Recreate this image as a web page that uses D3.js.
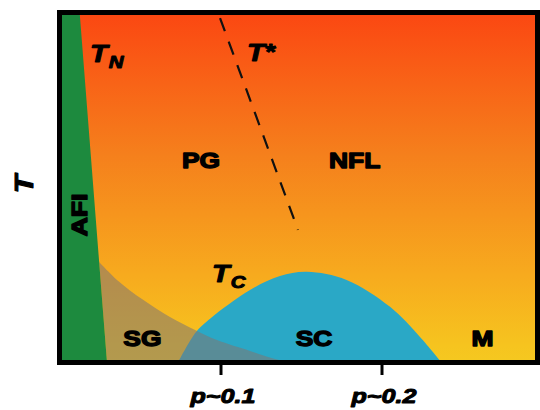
<!DOCTYPE html>
<html>
<head>
<meta charset="utf-8">
<script src="https://cdn.jsdelivr.net/npm/d3@7"></script>
<style>
  html, body { margin: 0; padding: 0; background: #fff; }
  svg { display: block; }
  text { font-family: "Liberation Sans", Arial, sans-serif; font-weight: bold; fill: #000; stroke-linejoin: round; }
</style>
</head>
<body>
<svg id="chart" width="540" height="410"></svg>
<script>
// Doping axis ticks
const pTicks = [0.1, 0.2];
const pTickLabels = ["p~0.1", "p~0.2"];

// Néel boundary of the antiferromagnetic insulator (p, T)
const afiBoundary = [[0.0122, 1.0], [0.0292, 0.0]];

// Spin-glass upper boundary (p, T)
const sgBoundary = [
  [0.0248, 0.287], [0.0354, 0.236], [0.0516, 0.179], [0.0683, 0.130],
  [0.0839, 0.093], [0.0975, 0.064], [0.118, 0.033], [0.132, 0.012], [0.143, 0.0]
];

// Superconducting dome Tc(p)
const scDome = [
  [0.0733, 0.0], [0.0845, 0.087], [0.0932, 0.125], [0.118, 0.207],
  [0.1366, 0.247], [0.1534, 0.259], [0.178, 0.236], [0.205, 0.159],
  [0.2236, 0.073], [0.237, 0.0]
];

// Pseudogap crossover T*(p)
const tStarLine = [[0.0994, 0.984], [0.1478, 0.379]];

// Phase labels: text and anchor (p, T)
const phaseNames = ["PG", "NFL", "SG", "SC", "M"];
const phaseAnchors = [[0.0876, 0.556], [0.183, 0.556], [0.0512, 0.047], [0.1578, 0.047], [0.2624, 0.047]];

const svg = d3.select("#chart");

const frame = { left: 59.5, top: 12.5, width: 478, height: 350 };
const x = d3.scaleLinear().domain([0, 0.3]).range([60, 543]);
const y = d3.scaleLinear().domain([0, 1]).range([frame.top + frame.height, frame.top]);

const defs = svg.append("defs");
const grad = defs.append("linearGradient")
  .attr("id", "bg").attr("gradientUnits", "userSpaceOnUse")
  .attr("x1", 0).attr("x2", 0).attr("y1", 15).attr("y2", 360);
[[0, "#fb4812"], [0.4, "#f57f1c"], [0.75, "#f7aa1e"], [0.96, "#f6c41f"], [1, "#f5c820"]]
  .forEach(([o, c]) => grad.append("stop").attr("offset", o).attr("stop-color", c));

defs.append("clipPath").attr("id", "plotClip")
  .append("rect")
  .attr("x", frame.left).attr("y", frame.top)
  .attr("width", frame.width).attr("height", frame.height);

const plot = svg.append("g").attr("clip-path", "url(#plotClip)");

// Temperature gradient background
plot.append("rect")
  .attr("x", frame.left).attr("y", frame.top)
  .attr("width", frame.width).attr("height", frame.height)
  .attr("fill", "url(#bg)");

const line = d3.line().x(d => x(d[0])).y(d => y(d[1]));
const smooth = d3.line().x(d => x(d[0])).y(d => y(d[1])).curve(d3.curveCatmullRom.alpha(0.5));

// Superconducting dome
plot.append("path")
  .attr("d", smooth(scDome) + "Z")
  .attr("fill", "#2aa8c6");

// Spin-glass region, translucent over the dome
const sgTopP = afiBoundary[1][0] + (afiBoundary[0][0] - afiBoundary[1][0]) * sgBoundary[0][1];
const sgPath = smooth([[sgTopP, sgBoundary[0][1]], ...sgBoundary.slice(1)]) +
  "L" + x(afiBoundary[1][0]) + "," + y(0) + "Z";
plot.append("path")
  .attr("d", sgPath)
  .attr("fill", "rgb(126,117,114)")
  .attr("fill-opacity", 0.56);

// Antiferromagnetic insulator
plot.append("path")
  .attr("d", line([[0, 1.05], [afiBoundary[0][0], 1.05], ...afiBoundary, [0, 0]]) + "Z")
  .attr("fill", "#1d8a3e");

// T* dashed crossover
plot.append("path")
  .attr("d", line(tStarLine))
  .attr("fill", "none")
  .attr("stroke", "#111")
  .attr("stroke-width", 2.2)
  .attr("stroke-dasharray", "14 11");

// Frame
svg.append("rect")
  .attr("x", frame.left).attr("y", frame.top)
  .attr("width", frame.width).attr("height", frame.height)
  .attr("fill", "none").attr("stroke", "#000").attr("stroke-width", 5);

// Axis ticks and labels
const xAxis = svg.append("g");
pTicks.forEach((p, i) => {
  xAxis.append("line")
    .attr("x1", x(p)).attr("x2", x(p))
    .attr("y1", frame.top + frame.height).attr("y2", 375)
    .attr("stroke", "#000").attr("stroke-width", 3);
  xAxis.append("g")
    .attr("transform", `translate(${x(p) + 2},403) scale(1.2,1)`)
    .append("text")
    .attr("text-anchor", "middle")
    .attr("font-size", 21)
    .attr("font-style", "italic")
    .attr("stroke", "#000").attr("stroke-width", 1)
    .text(pTickLabels[i]);
});

function stretched(tx, ty, rot) {
  return svg.append("g").attr("transform", `translate(${tx},${ty})${rot ? " rotate(" + rot + ")" : ""} scale(1.2,1)`);
}

// Temperature axis title
stretched(33, 184, -90).append("text")
  .attr("text-anchor", "middle").attr("font-size", 25).attr("font-style", "italic")
  .attr("stroke", "#000").attr("stroke-width", 1)
  .text("T");

// Phase labels
phaseNames.forEach((name, i) => {
  const [p, t] = phaseAnchors[i];
  stretched(x(p), y(t)).append("text")
    .attr("text-anchor", "middle").attr("font-size", 22)
    .attr("stroke", "#000").attr("stroke-width", 1.4)
    .text(name);
});

stretched(87, 215, -90).append("text")
  .attr("text-anchor", "middle").attr("font-size", 22)
  .attr("stroke", "#000").attr("stroke-width", 1.4)
  .text("AFI");

// Transition temperature labels
function tempLabel(tx, ty, sub, sup) {
  const t = stretched(tx, ty).append("text")
    .attr("font-size", 24).attr("font-style", "italic")
    .attr("stroke", "#000").attr("stroke-width", 1);
  t.append("tspan").text("T");
  if (sub) t.append("tspan").attr("font-size", 17).attr("dy", 6).attr("dx", 1).text(sub);
  if (sup) t.append("tspan").attr("font-size", 22).attr("dy", -2).text(sup);
}
tempLabel(90, 62, "N", null);
tempLabel(247, 61, null, "*");
tempLabel(212, 282, "C", null);
</script>
</body>
</html>
